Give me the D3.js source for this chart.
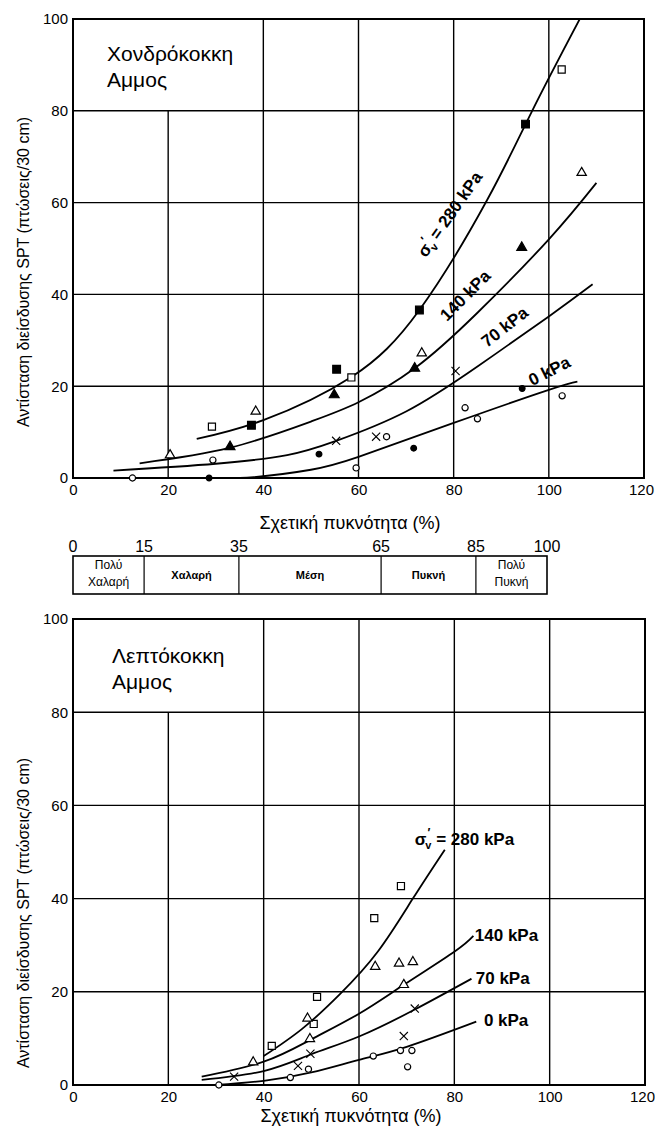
<!DOCTYPE html>
<html><head><meta charset="utf-8">
<script src="https://cdn.jsdelivr.net/npm/d3@7"></script>
<style>
body{margin:0;background:#fff}
svg{display:block}
text{font-family:"Liberation Sans",Arial,Helvetica,sans-serif;fill:#000}
</style>
</head><body>
<svg id="chart" width="655" height="1131"></svg>
<script>
// ---------- shared axis data ----------
const xTicks = [0, 20, 40, 60, 80, 100, 120];
const yTicks = [0, 20, 40, 60, 80, 100];
const xAxisTitle = "Σχετική πυκνότητα (%)";
const yAxisTitle = "Αντίσταση διείσδυσης SPT (πτώσεις/30 cm)";

// ---------- relative density classification bar ----------
const densityBreaks = [0, 15, 35, 65, 85, 100];
const densityClasses = [["Πολύ", "Χαλαρή"], ["Χαλαρή"], ["Μέση"], ["Πυκνή"], ["Πολύ", "Πυκνή"]];

// ---------- coarse sand (top chart) ----------
const coarseTitle = ["Χονδρόκοκκη", "Αμμος"];
const coarseOpenSquare   = [[29.2, 11.2], [58.5, 21.9], [102.7, 89]];
const coarseFilledSquare = [[37.5, 11.5], [55.4, 23.7], [72.8, 36.6], [95.1, 77.1]];
const coarseOpenTri      = [[20.4, 5], [38.4, 14.5], [73.3, 27.2], [106.9, 66.5]];
const coarseFilledTri    = [[33, 6.8], [54.9, 18.1], [71.8, 23.9], [94.3, 50.2]];
const coarseCross        = [[55.3, 8.1], [63.7, 9], [80.4, 23.3]];
const coarseOpenCircle   = [[12.5, 0], [29.4, 3.9], [59.5, 2.2], [65.9, 9], [82.4, 15.3], [85, 12.9], [102.8, 17.9]];
const coarseFilledCircle = [[28.6, 0], [51.7, 5.2], [71.6, 6.5], [94.4, 19.5]];
const coarseCurve280 = [[26, 8.5], [40, 12.6], [58.5, 22], [72.8, 36.6], [87, 60.5], [96.5, 80], [106.5, 100]];
const coarseCurve140 = [[14, 3.2], [33, 6.6], [50, 12.3], [60, 16.5], [71.8, 23.9], [85, 36], [100, 52], [110, 64.3]];
const coarseCurve70  = [[8.5, 1.6], [30, 3.1], [45, 5], [55.3, 8.1], [70, 14.5], [85, 24.3], [100, 35.2], [109.2, 42.2]];
const coarseCurve0   = [[29, 0], [38, 0.2], [50, 1.8], [60, 4.6], [80, 12], [100, 19.2], [106, 21]];
const coarseLabelText = ["280 kPa", "140 kPa", "70 kPa", "0 kPa"];
const coarseLabelAt   = [[74.2, 47.9], [78.6, 34], [87, 28.3], [96.5, 20]];
const coarseLabelAngle = [-55, -45, -38, -27];

// ---------- fine sand (bottom chart) ----------
const fineTitle = ["Λεπτόκοκκη", "Αμμος"];
const fineOpenSquare = [[41.7, 8.4], [50.5, 13.1], [51.2, 18.9], [63.2, 35.8], [68.8, 42.7]];
const fineOpenTri    = [[37.8, 4.9], [49.2, 14.3], [49.7, 9.9], [63.4, 25.4], [68.4, 26.1], [69.4, 21.5], [71.3, 26.4]];
const fineCross      = [[33.8, 1.8], [47.2, 4.1], [49.8, 6.7], [69.4, 10.5], [71.7, 16.4]];
const fineOpenCircle = [[30.6, 0], [45.6, 1.6], [49.4, 3.4], [63, 6.2], [68.7, 7.4], [70.2, 3.9], [71.1, 7.4]];
const fineCurve280 = [[40, 6.2], [48, 12], [56, 19.5], [64, 28.7], [71.3, 40], [78, 50.5]];
const fineCurve140 = [[27, 1.8], [40, 5], [50, 9.8], [60, 15.3], [69.4, 21.5], [80, 28.6], [84, 32]];
const fineCurve70  = [[27, 1.1], [40, 3], [50, 6.6], [60, 10.4], [71.7, 16.2], [83.6, 22.8]];
const fineCurve0   = [[30, 0], [40, 0.9], [50, 2.7], [60, 5.4], [70, 8.2], [84.6, 13.6]];
const fineLabelText = ["280 kPa", "140 kPa", "70 kPa", "0 kPa"];
const fineLabelAt   = [[71.7, 51.5], [84.3, 30.9], [84.5, 21.7], [86.2, 12.7]];
const fineLabelAngle = [0, 0, 0, 0];

const svg = d3.select("#chart");

function drawChart(cfg) {
  const x = d3.scaleLinear().domain([0, 120]).range([cfg.left, cfg.right]);
  const y = d3.scaleLinear().domain([0, 100]).range([cfg.bottom, cfg.top]);
  const g = svg.append("g");
  const clipId = "clip" + cfg.id;
  svg.append("clipPath").attr("id", clipId).append("rect")
    .attr("x", cfg.left).attr("y", cfg.top)
    .attr("width", cfg.right - cfg.left).attr("height", cfg.bottom - cfg.top);

  // grid: vertical (x=20 stops at y=80 beside the title)
  g.selectAll(".vg").data(xTicks.slice(1, -1)).enter().append("line")
    .attr("x1", d => x(d)).attr("x2", d => x(d))
    .attr("y1", y(0))
    .attr("y2", d => d < 40 ? y(80) : y(100))
    .attr("stroke", "#000").attr("stroke-width", 1.4);
  g.selectAll(".hg").data(yTicks.slice(1, -1)).enter().append("line")
    .attr("x1", x(0)).attr("x2", x(120))
    .attr("y1", d => y(d)).attr("y2", d => y(d))
    .attr("stroke", "#000").attr("stroke-width", 1.4);
  g.append("rect").attr("x", x(0)).attr("y", y(100))
    .attr("width", x(120) - x(0)).attr("height", y(0) - y(100))
    .attr("fill", "none").attr("stroke", "#000").attr("stroke-width", 2);

  // axes (labels only)
  const xa = g.append("g").attr("transform", `translate(0,${y(0)})`)
    .call(d3.axisBottom(x).tickValues(xTicks).tickSize(0).tickPadding(6));
  xa.select(".domain").remove();
  xa.selectAll("text").attr("font-size", 15).attr("font-family", "Liberation Sans, Arial, sans-serif")
    .attr("dx", d => d === 120 ? -3 : 0);
  const ya = g.append("g").attr("transform", `translate(${x(0)},0)`)
    .call(d3.axisLeft(y).tickValues(yTicks).tickSize(0).tickPadding(5));
  ya.select(".domain").remove();
  ya.selectAll("text").attr("font-size", 15).attr("font-family", "Liberation Sans, Arial, sans-serif");

  g.append("text").attr("x", cfg.xTitleX).attr("y", cfg.xTitleY)
    .attr("text-anchor", "middle").attr("font-size", 18).text(xAxisTitle);
  g.append("text").attr("transform", `translate(29,${cfg.yTitleY}) rotate(-90)`)
    .attr("text-anchor", "middle").attr("font-size", 16).text(yAxisTitle);

  // title inside plot
  cfg.title.forEach((t, i) => {
    g.append("text").attr("x", cfg.titleX).attr("y", cfg.titleY + i * 26)
      .attr("font-size", 21).text(t);
  });

  // curves
  const line = d3.line().x(d => x(d[0])).y(d => y(d[1])).curve(d3.curveNatural);
  const cg = g.append("g").attr("clip-path", `url(#${clipId})`);
  cfg.curves.forEach(c => {
    cg.append("path").attr("d", line(c)).attr("fill", "none")
      .attr("stroke", "#000").attr("stroke-width", 1.8);
  });

  // markers
  const mg = g.append("g");
  function sym(data, type, size, filled, sw) {
    mg.selectAll(null).data(data).enter().append("path")
      .attr("transform", d => `translate(${x(d[0])},${y(d[1])})`)
      .attr("d", d3.symbol().type(type).size(size))
      .attr("fill", filled ? "#000" : "#fff")
      .attr("stroke", "#000").attr("stroke-width", sw || 1.2);
  }
  cfg.markers.forEach(m => sym(m.data, m.type, m.size, m.filled, m.sw));

  // curve labels
  cfg.labelText.forEach((t, i) => {
    const p = cfg.labelAt[i];
    const tx = g.append("text")
      .attr("transform", `translate(${x(p[0])},${y(p[1])}) rotate(${cfg.labelAngle[i]})`)
      .attr("font-size", 17).attr("font-weight", "bold");
    if (i === 0) {
      tx.append("tspan").text("σ");
      tx.append("tspan").attr("font-size", 12).attr("dy", -8).attr("dx", 1).text("′");
      tx.append("tspan").attr("font-size", 11).attr("dy", 12).attr("dx", -5).text("v");
      tx.append("tspan").attr("dy", -4).text(" = " + t);
    } else {
      tx.text(t);
    }
  });
}

drawChart({
  id: "top", left: 73, right: 644, top: 19, bottom: 478,
  xTitleX: 350, xTitleY: 529, yTitleY: 272,
  title: coarseTitle, titleX: 107, titleY: 61,
  curves: [coarseCurve280, coarseCurve140, coarseCurve70, coarseCurve0],
  markers: [
    {data: coarseOpenSquare, type: d3.symbolSquare, size: 50, filled: false},
    {data: coarseFilledSquare, type: d3.symbolSquare, size: 60, filled: true},
    {data: coarseOpenTri, type: d3.symbolTriangle, size: 38, filled: false},
    {data: coarseFilledTri, type: d3.symbolTriangle, size: 42, filled: true},
    {data: coarseCross, type: d3.symbolTimes, size: 45, filled: false, sw: 1.1},
    {data: coarseOpenCircle, type: d3.symbolCircle, size: 30, filled: false},
    {data: coarseFilledCircle, type: d3.symbolCircle, size: 26, filled: true}
  ],
  labelText: coarseLabelText, labelAt: coarseLabelAt, labelAngle: coarseLabelAngle
});

drawChart({
  id: "bot", left: 73, right: 645, top: 619, bottom: 1085,
  xTitleX: 351, xTitleY: 1122, yTitleY: 913,
  title: fineTitle, titleX: 112, titleY: 663,
  curves: [fineCurve280, fineCurve140, fineCurve70, fineCurve0],
  markers: [
    {data: fineOpenSquare, type: d3.symbolSquare, size: 50, filled: false},
    {data: fineOpenTri, type: d3.symbolTriangle, size: 38, filled: false},
    {data: fineCross, type: d3.symbolTimes, size: 45, filled: false, sw: 1.1},
    {data: fineOpenCircle, type: d3.symbolCircle, size: 30, filled: false}
  ],
  labelText: fineLabelText, labelAt: fineLabelAt, labelAngle: fineLabelAngle
});

// ---------- density classification bar ----------
const bx = d3.scaleLinear().domain([0, 100]).range([73, 547]);
const barTop = 556, barBottom = 594;
const bar = svg.append("g");
bar.append("rect").attr("x", bx(0)).attr("y", barTop)
  .attr("width", bx(100) - bx(0)).attr("height", barBottom - barTop)
  .attr("fill", "none").attr("stroke", "#000").attr("stroke-width", 1.6);
bar.selectAll(".div").data(densityBreaks.slice(1, -1)).enter().append("line")
  .attr("x1", d => bx(d)).attr("x2", d => bx(d))
  .attr("y1", barTop).attr("y2", barBottom)
  .attr("stroke", "#000").attr("stroke-width", 1.2);
bar.selectAll(".lab").data(densityBreaks).enter().append("text")
  .attr("x", d => bx(d)).attr("y", barTop - 4)
  .attr("text-anchor", "middle").attr("font-size", 16).text(d => d);
densityClasses.forEach((lines, i) => {
  const cx = (bx(densityBreaks[i]) + bx(densityBreaks[i + 1])) / 2;
  const cy = (barTop + barBottom) / 2;
  lines.forEach((t, j) => {
    bar.append("text").attr("x", cx)
      .attr("y", lines.length === 1 ? cy + 4 : cy - 4 + (j * 17) - 2)
      .attr("text-anchor", "middle")
      .attr("font-size", lines.length === 1 ? 11 : 12)
      .attr("font-weight", lines.length === 1 ? "bold" : "normal")
      .text(t);
  });
});
</script>
</body></html>
